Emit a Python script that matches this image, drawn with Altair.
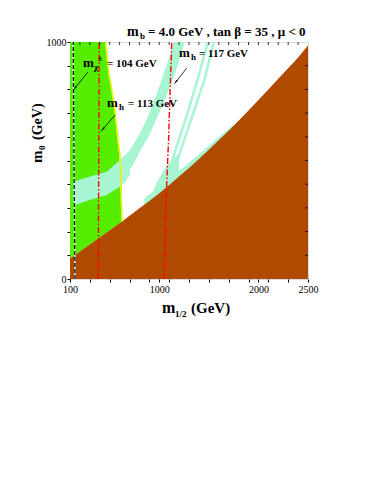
import altair as alt
import pandas as pd

SERIF = "Liberation Serif"
GREEN = "#55ee00"
MINT = "#a8f5d2"
BROWN = "#b04a00"
YELLOW = "#f0f000"
RED = "#ff0000"

# ---------------- values ----------------
# charged-LSP (brown) region: upper boundary m0 versus m1/2
brown_m12 = [100, 300, 500, 621, 800, 1000, 1200, 1400, 1600, 1800, 2000, 2200, 2400, 2500]
brown_m0 = [87, 146, 206, 242, 298, 362, 432, 506, 585, 668, 755, 845, 935, 985]

# b -> s gamma excluded (green): right boundary m1/2 versus m0
# (lower part follows the brown edge)
green_m0 = [87, 146, 206, 242, 300, 430, 520, 590, 700, 800, 867, 1000]
green_m12 = [100, 300, 500, 621, 614, 606, 598, 577, 550, 515, 486, 453]

# wide cosmological band, lower part (m0 range versus m1/2)
band_lo_m12 = [130, 150, 302, 470, 604, 660, 705]
band_lo_m0a = [345, 312, 333, 354, 389, 410, 440]
band_lo_m0b = [395, 412, 432, 453, 502, 525, 544]
# wide cosmological band, upper part (m1/2 range versus m0)
band_up_m0 = [430, 480, 544, 603, 671, 738, 806, 873, 945, 1000]
band_up_m12a = [600, 660, 705, 790, 870, 935, 995, 1050, 1110, 1145]
band_up_m12b = [650, 735, 812, 897, 967, 1038, 1105, 1165, 1220, 1255]

# thin cosmological band (two narrow strips)
thin_a_m12 = [960, 1040, 1100, 1200, 1300, 1391, 1490]
thin_a_m0 = [330, 400, 460, 590, 720, 848, 1000]
thin_b_m12 = [1100, 1150, 1255, 1360, 1461, 1550]
thin_b_m0 = [410, 460, 590, 720, 848, 1000]
# widening of the thin band near the brown edge
blob_m12 = [920, 980, 1040, 1100, 1160, 1200]
blob_m0a = [300, 320, 340, 370, 400, 420]
blob_m0b = [350, 410, 455, 490, 515, 530]

# coannihilation strip along the brown edge
fringe_m12 = [850, 1000, 1200, 1400, 1600, 1750]
fringe_m0a = [290, 340, 410, 485, 565, 640]
fringe_m0b = [340, 390, 456, 526, 598, 652]

# contours
chargino_m12 = [150, 140, 133]
chargino_m0 = [0, 500, 1000]
mh113_m12 = [385, 390, 395]
mh113_m0 = [0, 500, 1000]
mh117_m12 = [1050, 1060, 1075, 1095, 1110, 1126]
mh117_m0 = [0, 200, 400, 600, 800, 1000]

# annotation arrows (tail -> head)
arrow_x0 = [282, 554, 1277]
arrow_y0 = [873, 692, 890]
arrow_x1 = [150, 433, 1169]
arrow_y1 = [806, 633, 832]

# axis ticks
x_ticks = [100, 300, 500, 700, 900, 1000, 1100, 1300, 1500, 1700, 1900, 2000, 2100, 2300, 2500]
x_labelled = [100, 1000, 2000, 2500]
y_ticks = [0, 100, 200, 300, 400, 500, 600, 700, 800, 900, 1000]
y_labelled = [0, 1000]
top_ticks = [200, 300, 400, 500, 600, 700, 800, 900, 1000, 1100, 1200, 1300, 1400,
             1500, 1600, 1700, 1800, 1900, 2000, 2100, 2200, 2300, 2400]
right_ticks = [100, 200, 300, 400, 500, 600, 700, 800, 900]

# text pieces: (text, x, y, size, angle)  x,y in pixels relative to plot origin
texts = [
    ("m", 57, -6, 14, 0), ("b", 70, -3, 9, 0),
    ("= 4.0 GeV , tan \u03b2 = 35 ,  \u03bc < 0", 78, -6, 13, 0),
    ("m", 13, 25, 13, 0), ("\u03c7", 24, 28, 9, 0), ("\u00b1", 28, 19, 8, 0),
    ("= 104 GeV", 37, 25, 11, 0),
    ("m", 37, 65, 13, 0), ("h", 49, 68, 9, 0), ("= 113 GeV", 58, 65, 11, 0),
    ("m", 109, 15, 13, 0), ("h", 121, 18, 9, 0), ("= 117 GeV", 129, 15, 11, 0),
    ("m", 92, 271, 16, 0), ("1/2", 105, 275, 9, 0), ("(GeV)", 121, 271, 15, 0),
    ("m", -28, 121, 15, 270), ("0", -25, 108, 9, 270), ("(GeV)", -28, 98, 14, 270),
]

# ---------------- scales / axes ----------------
XS = alt.Scale(domain=[100, 2500], nice=False, zero=False)
YS = alt.Scale(domain=[0, 1000], nice=False, zero=False)


def lab_expr(vals):
    cond = " || ".join(f"datum.value == {v}" for v in vals)
    return f"({cond}) ? datum.label : ''"


XAXIS = alt.Axis(values=x_ticks, labelExpr=lab_expr(x_labelled), format="d", grid=False,
                 domain=False, tickSize=3, tickColor="black", labelFont=SERIF,
                 labelFontSize=10, labelColor="black", labelPadding=2,
                 labelOverlap=False, labelFlush=False)
YAXIS = alt.Axis(values=y_ticks, labelExpr=lab_expr(y_labelled), format="d", grid=False,
                 domain=False, tickSize=3, tickColor="black", labelFont=SERIF,
                 labelFontSize=10, labelColor="black", labelPadding=1,
                 labelOverlap=False, labelFlush=False)


def X(f):
    return alt.X(f, type="quantitative", scale=XS, axis=XAXIS, title=None)


def Y(f):
    return alt.Y(f, type="quantitative", scale=YS, axis=YAXIS, title=None)


# ---------------- layers ----------------
green = alt.Chart(pd.DataFrame({"m0": green_m0, "m12": green_m12})).mark_area(
    orient="horizontal", color=GREEN, clip=True
).encode(y=Y("m0"), x=X("m12"), x2=alt.datum(100))

yellow = alt.Chart(pd.DataFrame({"m0": green_m0[3:], "m12": [v + 7 for v in green_m12[3:]]})).mark_line(
    color=YELLOW, strokeWidth=1.5, clip=True
).encode(y=Y("m0"), x=X("m12"), order="m0:Q")

band_lo = alt.Chart(pd.DataFrame({"m12": band_lo_m12, "a": band_lo_m0a, "b": band_lo_m0b})).mark_area(
    color=MINT, clip=True
).encode(x=X("m12"), y=Y("a"), y2="b")

band_up = alt.Chart(pd.DataFrame({"m0": band_up_m0, "a": band_up_m12a, "b": band_up_m12b})).mark_area(
    orient="horizontal", color=MINT, clip=True
).encode(y=Y("m0"), x=X("a"), x2="b")

thin_df = pd.DataFrame({
    "m12": thin_a_m12 + thin_b_m12,
    "m0": thin_a_m0 + thin_b_m0,
    "s": ["a"] * len(thin_a_m12) + ["b"] * len(thin_b_m12),
})
thin = alt.Chart(thin_df).mark_line(color=MINT, strokeWidth=2.5, clip=True).encode(
    x=X("m12"), y=Y("m0"), detail="s:N", order="m0:Q")

blob = alt.Chart(pd.DataFrame({"m12": blob_m12, "a": blob_m0a, "b": blob_m0b})).mark_area(
    color=MINT, clip=True, interpolate="monotone"
).encode(x=X("m12"), y=Y("a"), y2="b")

fringe = alt.Chart(pd.DataFrame({"m12": fringe_m12, "a": fringe_m0a, "b": fringe_m0b})).mark_area(
    color=MINT, clip=True
).encode(x=X("m12"), y=Y("a"), y2="b")

brown = alt.Chart(pd.DataFrame({"m12": brown_m12, "m0": brown_m0, "z": [0] * len(brown_m12)})).mark_area(
    color=BROWN, clip=True, interpolate="monotone"
).encode(x=X("m12"), y=Y("m0"), y2="z:Q")

chargino_white = alt.Chart(pd.DataFrame({"m12": chargino_m12, "m0": chargino_m0})).mark_line(
    color="#ddfff0", strokeWidth=1.5, clip=True
).encode(x=X("m12"), y=Y("m0"), order="m0:Q")
chargino = alt.Chart(pd.DataFrame({"m12": chargino_m12, "m0": chargino_m0})).mark_line(
    color="black", strokeWidth=1.2, strokeDash=[4, 2], clip=True
).encode(x=X("m12"), y=Y("m0"), order="m0:Q")

mh_df = pd.DataFrame({
    "m12": mh113_m12 + mh117_m12,
    "m0": mh113_m0 + mh117_m0,
    "c": ["113"] * len(mh113_m12) + ["117"] * len(mh117_m12),
})
mh = alt.Chart(mh_df).mark_line(color=RED, strokeWidth=1.4, strokeDash=[6, 2, 1.5, 2], clip=True).encode(
    x=X("m12"), y=Y("m0"), detail="c:N", order="m0:Q")

arr_df = pd.DataFrame({"x0": arrow_x0, "y0": arrow_y0, "x1": arrow_x1, "y1": arrow_y1})
arrow_shaft = alt.Chart(arr_df).mark_rule(color="black", strokeWidth=0.8).encode(
    x=X("x0"), y=Y("y0"), x2="x1", y2="y1")
arrow_head = alt.Chart(arr_df).mark_point(
    shape="wedge", angle=220, filled=True, color="black", size=45, opacity=1
).encode(x=X("x1"), y=Y("y1"))

# inward ticks on the top and right frame
top_tk = alt.Chart(pd.DataFrame({"v": top_ticks})).mark_rule(color="black", strokeWidth=0.8).encode(
    x=X("v"), y=alt.value(0), y2=alt.value(3))
right_tk = alt.Chart(pd.DataFrame({"v": right_ticks})).mark_rule(color="black", strokeWidth=0.8).encode(
    y=Y("v"), x=alt.value(235), x2=alt.value(238))

one = pd.DataFrame({"a": [0]})
text_layers = []
for t, x, y, s, ang in texts:
    kw = dict(text=t, font=SERIF, fontWeight="bold", fontSize=s, align="left",
              baseline="alphabetic", color="black")
    if ang:
        kw["angle"] = ang
    text_layers.append(alt.Chart(one).mark_text(**kw).encode(x=alt.value(x), y=alt.value(y)))

chart = alt.layer(
    green, band_lo, band_up, blob, thin, fringe, brown, yellow,
    chargino_white, chargino, mh, arrow_shaft, arrow_head, top_tk, right_tk, *text_layers
).properties(
    width=238, height=237,
    autosize=alt.AutoSizeParams(type="none"),
    padding={"left": 62, "top": 34, "right": 50, "bottom": 180},
).configure_view(stroke="black", strokeWidth=1.3).configure(background="white")

chart.save("out.html", embed_options={"renderer": "svg", "actions": False})
